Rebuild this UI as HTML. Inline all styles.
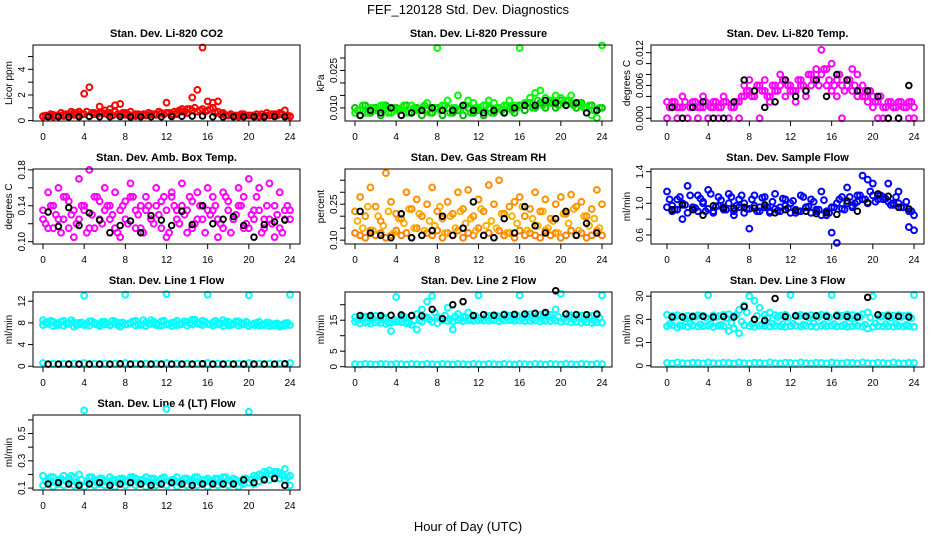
<!DOCTYPE html>
<html><head><meta charset="utf-8">
<style>
html,body{margin:0;padding:0;background:#fff;}
svg{display:block;font-family:"Liberation Sans",Arial,sans-serif;}
</style></head>
<body>
<svg id="chart" width="936" height="540" viewBox="0 0 936 540" xmlns="http://www.w3.org/2000/svg">
<text x="468" y="14" font-size="13" text-anchor="middle">FEF_120128  Std. Dev. Diagnostics</text>
<text x="468" y="531" font-size="13" text-anchor="middle">Hour of Day (UTC)</text>
</svg>
<script>
const hoursC = [0,0.5,1,1.5,2,2.5,3,3.5,4,4.5,5,5.5,6,6.5,7,7.5,8,8.5,9,9.5,10,10.5,11,11.5,12,12.5,13,13.5,14,14.5,15,15.5,16,16.5,17,17.5,18,18.5,19,19.5,20,20.5,21,21.5,22,22.5,23,23.5,24];
const hoursQ = [0.25,0.75,1.25,1.75,2.25,2.75,3.25,3.75,4.25,4.75,5.25,5.75,6.25,6.75,7.25,7.75,8.25,8.75,9.25,9.75,10.25,10.75,11.25,11.75,12.25,12.75,13.25,13.75,14.25,14.75,15.25,15.75,16.25,16.75,17.25,17.75,18.25,18.75,19.25,19.75,20.25,20.75,21.25,21.75,22.25,22.75,23.25,23.75];
const hoursK = [0.5,1.5,2.5,3.5,4.5,5.5,6.5,7.5,8.5,9.5,10.5,11.5,12.5,13.5,14.5,15.5,16.5,17.5,18.5,19.5,20.5,21.5,22.5,23.5];
const xTicks = [0,4,8,12,16,20,24];

const co2A = [0.35,0.4,0.45,0.4,0.45,0.5,0.6,0.7,2.1,2.6,0.6,1.1,0.8,0.9,1.2,1.3,0.6,0.7,0.5,0.4,0.45,0.5,0.5,0.6,1.4,0.5,0.6,0.9,0.9,1.8,2.4,5.7,1.5,1.4,1.5,0.6,0.4,0.4,0.4,0.5,0.4,0.4,0.35,0.4,0.45,0.5,0.6,0.8,0.3];
const co2B = [0.3,0.35,0.3,0.4,0.35,0.3,0.45,0.4,0.5,0.35,0.5,0.6,0.55,0.6,0.7,0.5,0.45,0.4,0.35,0.45,0.4,0.5,0.45,0.55,0.6,0.4,0.5,0.7,0.6,0.8,0.7,0.9,0.8,1.0,0.7,0.5,0.4,0.35,0.3,0.35,0.4,0.35,0.3,0.35,0.4,0.45,0.5,0.4,0.35];
const co2C = [0.4,0.5,0.4,0.6,0.5,0.7,0.6,0.5,0.7,0.6,0.5,0.6,0.5,0.4,0.5,0.6,0.5,0.4,0.5,0.5,0.6,0.5,0.7,0.5,0.6,0.7,0.8,0.7,0.9,1.0,0.8,0.7,0.9,0.6,0.5,0.4,0.5,0.4,0.5,0.4,0.4,0.5,0.5,0.6,0.5,0.4,0.5,0.4];
const co2K = [0.3,0.3,0.28,0.3,0.32,0.3,0.3,0.32,0.28,0.3,0.3,0.3,0.32,0.34,0.35,0.36,0.3,0.28,0.3,0.3,0.3,0.28,0.32,0.3];

const prA = [0.008,0.009,0.008,0.010,0.009,0.011,0.010,0.008,0.009,0.010,0.008,0.011,0.009,0.010,0.012,0.010,0.034,0.011,0.013,0.010,0.015,0.011,0.013,0.012,0.010,0.011,0.013,0.012,0.010,0.011,0.013,0.011,0.034,0.012,0.014,0.016,0.017,0.014,0.013,0.015,0.014,0.013,0.015,0.012,0.011,0.010,0.007,0.006,0.035];
const prB = [0.010,0.007,0.011,0.008,0.010,0.007,0.011,0.008,0.010,0.007,0.011,0.008,0.010,0.007,0.009,0.008,0.010,0.007,0.010,0.008,0.009,0.007,0.010,0.008,0.009,0.007,0.010,0.008,0.010,0.008,0.010,0.008,0.011,0.009,0.012,0.010,0.012,0.010,0.012,0.010,0.013,0.011,0.012,0.010,0.012,0.010,0.011,0.009,0.010];
const prC = [0.009,0.011,0.008,0.010,0.009,0.011,0.008,0.010,0.009,0.011,0.008,0.010,0.009,0.011,0.008,0.010,0.009,0.011,0.008,0.010,0.009,0.011,0.008,0.010,0.009,0.011,0.008,0.010,0.009,0.011,0.009,0.010,0.011,0.012,0.010,0.013,0.011,0.012,0.013,0.011,0.012,0.013,0.011,0.012,0.010,0.011,0.009,0.010];
const prK = [0.007,0.009,0.008,0.010,0.007,0.008,0.009,0.010,0.009,0.009,0.011,0.009,0.008,0.009,0.008,0.010,0.011,0.011,0.013,0.012,0.011,0.012,0.008,0.009];

const tA = [0.003,0.003,0.002,0.004,0.000,0.003,0.002,0.004,0.000,0.003,0.002,0.004,0.000,0.002,0.003,0.006,0.007,0.005,0.006,0.007,0.003,0.006,0.008,0.007,0.006,0.005,0.007,0.004,0.008,0.009,0.0125,0.009,0.010,0.007,0.006,0.007,0.009,0.008,0.006,0.005,0.004,0.003,0.000,0.003,0.002,0.003,0.002,0.003,0.000];
const tB = [0.000,0.002,0.000,0.002,0.000,0.002,0.000,0.002,0.000,0.002,0.000,0.003,0.000,0.002,0.000,0.004,0.005,0.004,0.000,0.005,0.004,0.005,0.006,0.004,0.005,0.003,0.006,0.005,0.006,0.007,0.008,0.006,0.005,0.004,0.000,0.006,0.005,0.004,0.004,0.003,0.002,0.000,0.002,0.000,0.002,0.000,0.002,0.000,0.002];
const tC = [0.002,0.003,0.002,0.003,0.002,0.003,0.002,0.003,0.002,0.003,0.002,0.003,0.002,0.003,0.004,0.005,0.004,0.006,0.005,0.004,0.006,0.005,0.007,0.006,0.005,0.007,0.006,0.008,0.007,0.006,0.009,0.007,0.006,0.008,0.005,0.007,0.006,0.005,0.004,0.005,0.003,0.004,0.002,0.003,0.002,0.003,0.002,0.003];
const tK = [0.002,0.000,0.002,0.003,0.000,0.000,0.003,0.007,0.005,0.002,0.003,0.007,0.004,0.005,0.007,0.004,0.008,0.007,0.005,0.005,0.004,0.000,0.000,0.006];

const aA = [0.135,0.155,0.115,0.16,0.125,0.145,0.105,0.17,0.135,0.18,0.115,0.145,0.16,0.125,0.155,0.105,0.145,0.165,0.135,0.115,0.15,0.125,0.16,0.145,0.105,0.155,0.135,0.165,0.11,0.145,0.155,0.125,0.16,0.135,0.105,0.155,0.145,0.125,0.16,0.115,0.17,0.135,0.16,0.125,0.165,0.105,0.155,0.135,0.125];
const aB = [0.125,0.115,0.14,0.125,0.15,0.115,0.135,0.125,0.14,0.115,0.15,0.125,0.135,0.14,0.115,0.135,0.125,0.15,0.115,0.14,0.135,0.125,0.14,0.115,0.135,0.15,0.125,0.14,0.135,0.115,0.125,0.14,0.135,0.15,0.125,0.115,0.135,0.125,0.14,0.15,0.115,0.125,0.135,0.115,0.125,0.14,0.115,0.125,0.135];
const aC = [0.12,0.14,0.13,0.11,0.15,0.13,0.12,0.14,0.11,0.13,0.15,0.12,0.14,0.13,0.11,0.14,0.12,0.15,0.13,0.11,0.14,0.12,0.13,0.15,0.11,0.14,0.12,0.13,0.15,0.12,0.14,0.11,0.13,0.14,0.12,0.15,0.11,0.13,0.14,0.12,0.13,0.15,0.11,0.14,0.12,0.13,0.11,0.14];
const aK = [0.133,0.117,0.138,0.118,0.132,0.124,0.11,0.118,0.123,0.11,0.129,0.124,0.118,0.134,0.119,0.14,0.12,0.125,0.128,0.118,0.105,0.119,0.122,0.124];

const rA = [0.22,0.28,0.20,0.32,0.24,0.18,0.38,0.26,0.21,0.19,0.30,0.23,0.27,0.20,0.25,0.32,0.22,0.19,0.26,0.21,0.30,0.23,0.31,0.20,0.27,0.22,0.33,0.25,0.35,0.21,0.24,0.26,0.28,0.20,0.23,0.30,0.22,0.27,0.19,0.25,0.28,0.21,0.29,0.24,0.26,0.20,0.23,0.31,0.25];
const rB = [0.13,0.12,0.11,0.14,0.12,0.13,0.11,0.12,0.14,0.12,0.13,0.11,0.15,0.12,0.13,0.12,0.14,0.11,0.13,0.12,0.14,0.11,0.13,0.12,0.15,0.12,0.13,0.11,0.14,0.12,0.13,0.11,0.14,0.12,0.13,0.12,0.11,0.14,0.12,0.13,0.11,0.12,0.14,0.12,0.13,0.11,0.12,0.14,0.12];
const rC = [0.18,0.15,0.24,0.14,0.20,0.16,0.22,0.13,0.19,0.17,0.23,0.15,0.21,0.14,0.18,0.16,0.24,0.13,0.20,0.15,0.22,0.17,0.19,0.14,0.23,0.16,0.18,0.15,0.21,0.13,0.20,0.17,0.24,0.14,0.19,0.16,0.22,0.15,0.18,0.13,0.21,0.17,0.23,0.14,0.20,0.16,0.19,0.15];
const rK = [0.22,0.13,0.12,0.11,0.21,0.11,0.12,0.14,0.20,0.12,0.15,0.26,0.12,0.11,0.19,0.13,0.24,0.16,0.13,0.19,0.22,0.12,0.17,0.13];

const sA = [1.15,0.97,1.05,0.80,1.22,0.95,1.10,1.00,1.17,0.90,1.08,0.95,1.12,0.85,1.05,1.00,0.68,1.10,0.95,1.08,0.90,1.12,0.95,1.05,1.00,0.88,1.10,0.95,1.05,0.90,1.15,0.85,0.63,1.00,1.08,1.20,0.95,1.10,1.35,1.30,1.25,1.10,1.05,1.25,1.00,1.15,0.95,0.70,0.66];
const sB = [0.95,0.90,0.92,1.00,0.88,0.95,0.90,1.02,0.93,0.88,0.97,0.92,1.00,0.90,0.95,0.88,0.93,0.97,0.90,0.95,0.88,0.93,0.90,0.97,0.88,0.92,0.90,0.95,0.88,0.92,0.85,0.90,0.95,0.50,0.93,1.00,0.97,1.02,1.05,1.00,1.10,1.05,1.08,1.02,0.98,1.00,0.95,0.90,0.85];
const sC = [1.05,0.92,1.08,0.98,1.10,0.94,1.06,0.90,1.12,0.96,1.04,0.92,1.08,0.97,1.10,0.93,1.05,0.90,1.07,0.95,1.02,0.91,1.06,0.94,1.03,0.90,1.08,0.96,1.02,0.92,1.04,0.88,0.95,1.05,0.92,1.08,1.00,1.10,1.05,1.15,1.02,1.10,1.06,0.98,1.08,0.95,1.02,0.90];
const sK = [0.92,0.98,0.92,0.85,0.97,0.94,0.94,0.95,0.94,0.98,0.88,0.92,0.91,0.90,0.87,0.88,0.86,1.03,0.90,1.01,1.12,1.09,0.95,0.93];

const l1A = [8.5,7.8,8.2,7.6,8.4,7.9,8.1,7.7,13.0,8.3,8.0,7.8,8.2,7.6,8.3,8.0,13.2,7.9,8.4,7.7,8.1,8.5,7.9,8.3,13.3,8.0,8.4,7.8,8.2,8.6,8.0,8.4,13.2,8.1,7.9,8.5,8.2,7.8,8.3,8.0,13.1,7.9,8.2,7.6,8.0,7.8,7.6,7.9,13.2];
const l1B = [7.6,8.2,7.4,8.0,7.5,7.8,7.3,8.0,7.6,7.5,7.8,7.4,7.7,7.5,7.9,7.3,7.7,8.0,7.5,7.6,7.4,7.8,7.6,7.5,7.7,7.4,7.6,7.8,7.5,7.7,7.9,7.6,7.8,7.5,7.7,7.4,7.6,7.8,7.5,7.7,7.4,7.6,7.5,7.7,7.4,7.6,7.3,7.5,7.6];
const l1C = [0.6,0.4,0.5,0.4,0.5,0.4,0.5,0.4,0.6,0.4,0.5,0.4,0.5,0.4,0.5,0.4,0.6,0.4,0.5,0.4,0.5,0.4,0.5,0.4,0.6,0.4,0.5,0.4,0.5,0.4,0.5,0.4,0.6,0.4,0.5,0.4,0.5,0.4,0.5,0.4,0.6,0.4,0.5,0.4,0.5,0.4,0.5,0.4,0.6];
const l1D = [8.0,8.4,7.7,8.2,7.9,8.5,7.6,8.1,7.8,8.3,7.7,8.2,7.9,8.4,7.6,8.1,7.8,8.3,7.7,8.5,7.9,8.2,7.6,8.4,7.8,8.1,7.7,8.3,7.9,8.6,7.8,8.2,7.7,8.4,7.9,8.1,7.6,8.3,7.8,8.2,7.7,8.0,7.6,8.1,7.5,7.9,7.6,8.0];
const l1K = [0.4,0.4,0.4,0.4,0.4,0.4,0.4,0.45,0.4,0.4,0.4,0.4,0.4,0.4,0.4,0.45,0.4,0.4,0.4,0.4,0.4,0.4,0.4,0.45];

const l2A = [16,15.5,16.2,15.8,16.4,16,15.7,11.5,22.5,16.2,15.8,16.5,17,18.5,21,22.8,16,15.5,19,12,17,16.2,17.5,16.5,23,16.8,16.4,16.6,16.2,16.9,16.5,16.7,23,16.6,16.9,17.2,16.8,17,16.7,18.5,23.5,17,16.6,16.8,16.5,16.7,16.4,16.6,23];
const l2B = [14.5,14,14.2,13.9,14.3,14.1,13.8,14.2,14.5,14.3,14,13.5,12,14.5,16,14.5,14,15,14.8,14.6,15,14.7,14.9,14.8,15,14.9,14.8,15,14.7,14.9,15,14.8,14.9,14.7,14.8,14.9,14.6,14.8,14.7,14.9,14.5,14.7,14.3,14.5,14.2,14.4,14.1,14.3,14.2];
const l2C = [0.8,0.7,0.9,0.8,0.7,0.9,0.8,0.7,0.9,0.8,0.7,0.9,0.8,0.7,0.9,0.8,0.7,0.9,0.8,0.7,0.9,0.8,0.7,0.9,0.8,0.7,0.9,0.8,0.7,0.9,0.8,0.7,0.9,0.8,0.7,0.9,0.8,0.7,0.9,0.8,0.7,0.9,0.8,0.7,0.9,0.8,0.7,0.9,0.8];
const l2D = [15.0,16.0,14.5,15.5,14.8,15.8,14.3,15.2,14.7,16.2,14.2,15.0,14.9,16.0,15.2,17.5,15.5,16.5,15.3,16.2,15.4,16.0,15.2,16.3,15.5,16.1,15.3,16.4,15.4,16.2,15.2,16.5,15.5,16.3,15.4,16.6,15.3,16.4,15.5,16.2,15.4,16.3,15.2,16.1,15.0,16.0,14.8,15.8];
const l2K = [16.5,16.5,16.5,16.6,16.7,16.5,16.4,18.5,15.5,20,21,16.5,16.8,16.6,16.8,16.9,17,17.2,17.5,24.5,17,16.8,16.8,17];

const l3A = [22,21.5,21.8,21.2,21.6,21.4,21.8,21.5,30.5,21.7,21.4,21.9,22.2,21.5,24,26,30,28,25,22,23,21.8,21.6,22,30.5,21.7,21.9,21.5,21.8,21.6,22,21.7,30.5,21.9,21.6,22.1,21.8,21.5,22.2,23,30,21.7,21.5,21.9,21.6,21.8,21.5,21.7,30.5];
const l3B = [17,17.5,16.5,17.2,16.8,17.4,16.9,17.1,17.3,16.7,17.2,17,15,16,14,17.5,17,16.8,17.3,17.1,16.9,17.2,17,16.8,17.1,17.3,16.9,17.2,17,16.8,17.2,17,17.3,16.9,17.1,16.8,17,17.2,16.9,16,16.8,17.1,16.9,17,16.8,17.1,16.9,17,16.8];
const l3C = [1.2,1.0,1.4,1.1,1.0,1.3,1.2,1.0,1.4,1.1,1.0,1.3,1.2,1.0,1.4,1.1,1.0,1.3,1.2,1.0,1.4,1.1,1.0,1.3,1.2,1.0,1.4,1.1,1.0,1.3,1.2,1.0,1.4,1.1,1.0,1.3,1.2,1.0,1.4,1.1,1.0,1.3,1.2,1.0,1.4,1.1,1.0,1.3,1.2];
const l3D = [18,21,17.5,20.5,18.2,21.2,17.8,20.8,18,21,17.6,20.5,18.5,22,19,23,18,21.5,17.8,20.6,18.2,21,17.9,20.8,18.1,21.3,17.7,20.7,18.3,21.1,17.9,20.9,18,21.2,17.8,20.6,18.1,21,17.7,20.8,18.2,21.1,17.9,20.7,18,21,17.6,20.5];
const l3K = [21,21,21.2,21.3,21,21.2,21,25.5,20,19.5,29,21.2,21.5,21.3,21.5,21.3,21.5,21.2,21,29.5,22,21.4,21.3,21];

const l4A = [0.19,0.17,0.18,0.16,0.19,0.17,0.18,0.2,0.67,0.18,0.16,0.17,0.15,0.18,0.16,0.17,0.15,0.18,0.17,0.16,0.18,0.17,0.15,0.17,0.68,0.16,0.18,0.15,0.17,0.16,0.18,0.16,0.17,0.15,0.17,0.18,0.16,0.17,0.15,0.17,0.66,0.19,0.2,0.22,0.23,0.22,0.21,0.24,0.19];
const l4B = [0.12,0.14,0.11,0.13,0.12,0.14,0.12,0.13,0.11,0.14,0.12,0.13,0.12,0.14,0.11,0.13,0.12,0.14,0.12,0.13,0.11,0.14,0.12,0.13,0.12,0.14,0.11,0.13,0.12,0.14,0.12,0.13,0.11,0.14,0.12,0.13,0.12,0.14,0.11,0.13,0.14,0.13,0.15,0.17,0.16,0.18,0.17,0.16,0.12];
const l4C = [0.15,0.18,0.14,0.17,0.15,0.19,0.14,0.16,0.15,0.18,0.14,0.17,0.15,0.16,0.14,0.17,0.15,0.18,0.14,0.16,0.15,0.17,0.14,0.18,0.15,0.16,0.14,0.17,0.15,0.18,0.14,0.16,0.15,0.17,0.14,0.18,0.15,0.16,0.14,0.17,0.16,0.18,0.19,0.21,0.2,0.22,0.19,0.18];
const l4K = [0.13,0.14,0.13,0.12,0.13,0.14,0.12,0.13,0.14,0.13,0.12,0.13,0.14,0.13,0.12,0.13,0.13,0.13,0.13,0.16,0.14,0.16,0.17,0.12];

const NS = 'http://www.w3.org/2000/svg';
const svg = document.getElementById('chart');
function mk(tag, attrs, parent){const e=document.createElementNS(NS,tag);for(const k in attrs)e.setAttribute(k,attrs[k]);(parent||svg).appendChild(e);return e;}

const cols = [{x1:33,x2:300,x0:43,x24:290},{x1:345,x2:612,x0:355,x24:602},{x1:651,x2:924,x0:667,x24:914}];
const rows = [{y1:45,y2:121},{y1:169,y2:244},{y1:292,y2:367},{y1:415,y2:490}];

const panels = [
 {name:'co2',title:'Stan. Dev. Li-820 CO2',ylab:'Licor ppm',c:0,r:0,ymin:-0.03,ymax:5.9,ticks:[0,1,2,3,4,5],labels:[0,2,4],fmt:0,series:[[co2B,'#ff0000',hoursC],[co2C,'#ff0000',hoursQ],[co2A,'#ff0000',hoursC]],black:co2K},
 {name:'pressure',title:'Stan. Dev. Li-820 Pressure',ylab:'kPa',c:1,r:0,ymin:0.00475,ymax:0.0352,ticks:[0.010,0.015,0.020,0.025,0.030],labels:[0.010,0.025],fmt:3,series:[[prB,'#00bb00',hoursC],[prC,'#00ee00',hoursQ],[prA,'#00ff00',hoursC]],black:prK},
 {name:'temp',title:'Stan. Dev. Li-820 Temp.',ylab:'degrees C',c:2,r:0,ymin:-0.0005,ymax:0.0134,ticks:[0,0.002,0.004,0.006,0.008,0.010,0.012],labels:[0,0.006,0.012],fmt:3,series:[[tB,'#ff00ff',hoursC],[tC,'#ff00ff',hoursQ],[tA,'#ff00ff',hoursC]],black:tK},
 {name:'amb-box-temp',title:'Stan. Dev. Amb. Box Temp.',ylab:'degrees C',c:0,r:1,ymin:0.0974,ymax:0.181,ticks:[0.10,0.12,0.14,0.16,0.18],labels:[0.10,0.14,0.18],fmt:2,series:[[aB,'#ff00ff',hoursC],[aC,'#ff00ff',hoursQ],[aA,'#ff00ff',hoursC]],black:aK},
 {name:'gas-rh',title:'Stan. Dev. Gas Stream RH',ylab:'percent',c:1,r:1,ymin:0.084,ymax:0.397,ticks:[0.10,0.15,0.20,0.25,0.30,0.35],labels:[0.10,0.25],fmt:2,series:[[rB,'#ff8000',hoursC],[rC,'#ffb000',hoursQ],[rA,'#ff9000',hoursC]],black:rK},
 {name:'sample-flow',title:'Stan. Dev. Sample Flow',ylab:'ml/min',c:2,r:1,ymin:0.486,ymax:1.434,ticks:[0.6,0.8,1.0,1.2,1.4],labels:[0.6,1.0,1.4],fmt:1,series:[[sB,'#0000ff',hoursC],[sC,'#0000ff',hoursQ],[sA,'#0000ff',hoursC]],black:sK},
 {name:'line1-flow',title:'Stan. Dev. Line 1 Flow',ylab:'ml/min',c:0,r:2,ymin:-0.14,ymax:13.7,ticks:[0,4,8,12],labels:[0,4,8,12],fmt:0,series:[[l1C,'#00ffff',hoursC],[l1B,'#00ffff',hoursC],[l1D,'#00ffff',hoursQ],[l1A,'#00ffff',hoursC]],black:l1K},
 {name:'line2-flow',title:'Stan. Dev. Line 2 Flow',ylab:'ml/min',c:1,r:2,ymin:-0.1,ymax:24.1,ticks:[0,5,10,15,20],labels:[0,5,15],fmt:0,series:[[l2C,'#00ffff',hoursC],[l2B,'#00ffff',hoursC],[l2D,'#00ffff',hoursQ],[l2A,'#00ffff',hoursC]],black:l2K},
 {name:'line3-flow',title:'Stan. Dev. Line 3 Flow',ylab:'ml/min',c:2,r:2,ymin:-0.57,ymax:31.8,ticks:[0,10,20,30],labels:[0,10,20,30],fmt:0,series:[[l3C,'#00ffff',hoursC],[l3B,'#00ffff',hoursC],[l3D,'#00ffff',hoursQ],[l3A,'#00ffff',hoursC]],black:l3K},
 {name:'line4-flow',title:'Stan. Dev. Line 4 (LT) Flow',ylab:'ml/min',c:0,r:3,ymin:0.086,ymax:0.636,ticks:[0.1,0.2,0.3,0.4,0.5,0.6],labels:[0.1,0.3,0.5],fmt:1,series:[[l4B,'#00ffff',hoursC],[l4C,'#00ffff',hoursQ],[l4A,'#00ffff',hoursC]],black:l4K}
];

panels.forEach(p=>{
  const C=cols[p.c], R=rows[p.r];
  const g=mk('g',{});
  
  
  const xs=v=>C.x0+(C.x24-C.x0)*v/24;
  const ys=v=>R.y2-(R.y2-R.y1)*(v-p.ymin)/(p.ymax-p.ymin);
  const t=mk('text',{x:(C.x1+C.x2)/2,y:R.y1-8,'font-size':11,'font-weight':'bold','text-anchor':'middle'},g);
  t.textContent=p.title;
  
  
  const lx0=C.x1-21, ly0=(R.y1+R.y2)/2;
  const yl=mk('text',{x:lx0,y:ly0,'font-size':10,'text-anchor':'middle',transform:`rotate(-90 ${lx0} ${ly0})`},g);
  yl.textContent=p.ylab;
  
  
  // points
  p.series.forEach(([arr,col,hrs])=>{
    arr.forEach((v,i)=>{
      if(i>=hrs.length) return;
      const c=mk('circle',{cx:xs(hrs[i]),cy:ys(v),r:2.9,fill:'none',stroke:col,'stroke-width':2},g);
      
      
    });
  });
  p.black.forEach((v,i)=>{
    const c=mk('circle',{cx:xs(hoursK[i]),cy:ys(v),r:2.8,fill:'none',stroke:'#000','stroke-width':1.9},g);
    
    
  });
  // x axis ticks from box edge
  xTicks.forEach(v=>{
    mk('line',{x1:xs(v),x2:xs(v),y1:R.y2,y2:R.y2+5,stroke:'#000'},g);
    const tl=mk('text',{x:xs(v),y:R.y2+19,'font-size':10,'text-anchor':'middle'},g);
    tl.textContent=v;
    
    
  });
  p.ticks.forEach(v=>{mk('line',{x1:C.x1-5,x2:C.x1,y1:ys(v),y2:ys(v),stroke:'#000'},g);});
  p.labels.forEach(v=>{
    const lx=C.x1-8, ly=ys(v);
    const tl=mk('text',{x:lx,y:ly,'font-size':10,'text-anchor':'middle',transform:`rotate(-90 ${lx} ${ly})`},g);
    tl.textContent=v.toFixed(p.fmt);
    
    
  });
  const box=mk('rect',{x:C.x1,y:R.y1,width:C.x2-C.x1,height:R.y2-R.y1,fill:'none',stroke:'#000','stroke-width':1},g);
  
  
});
</script>
</body></html>
